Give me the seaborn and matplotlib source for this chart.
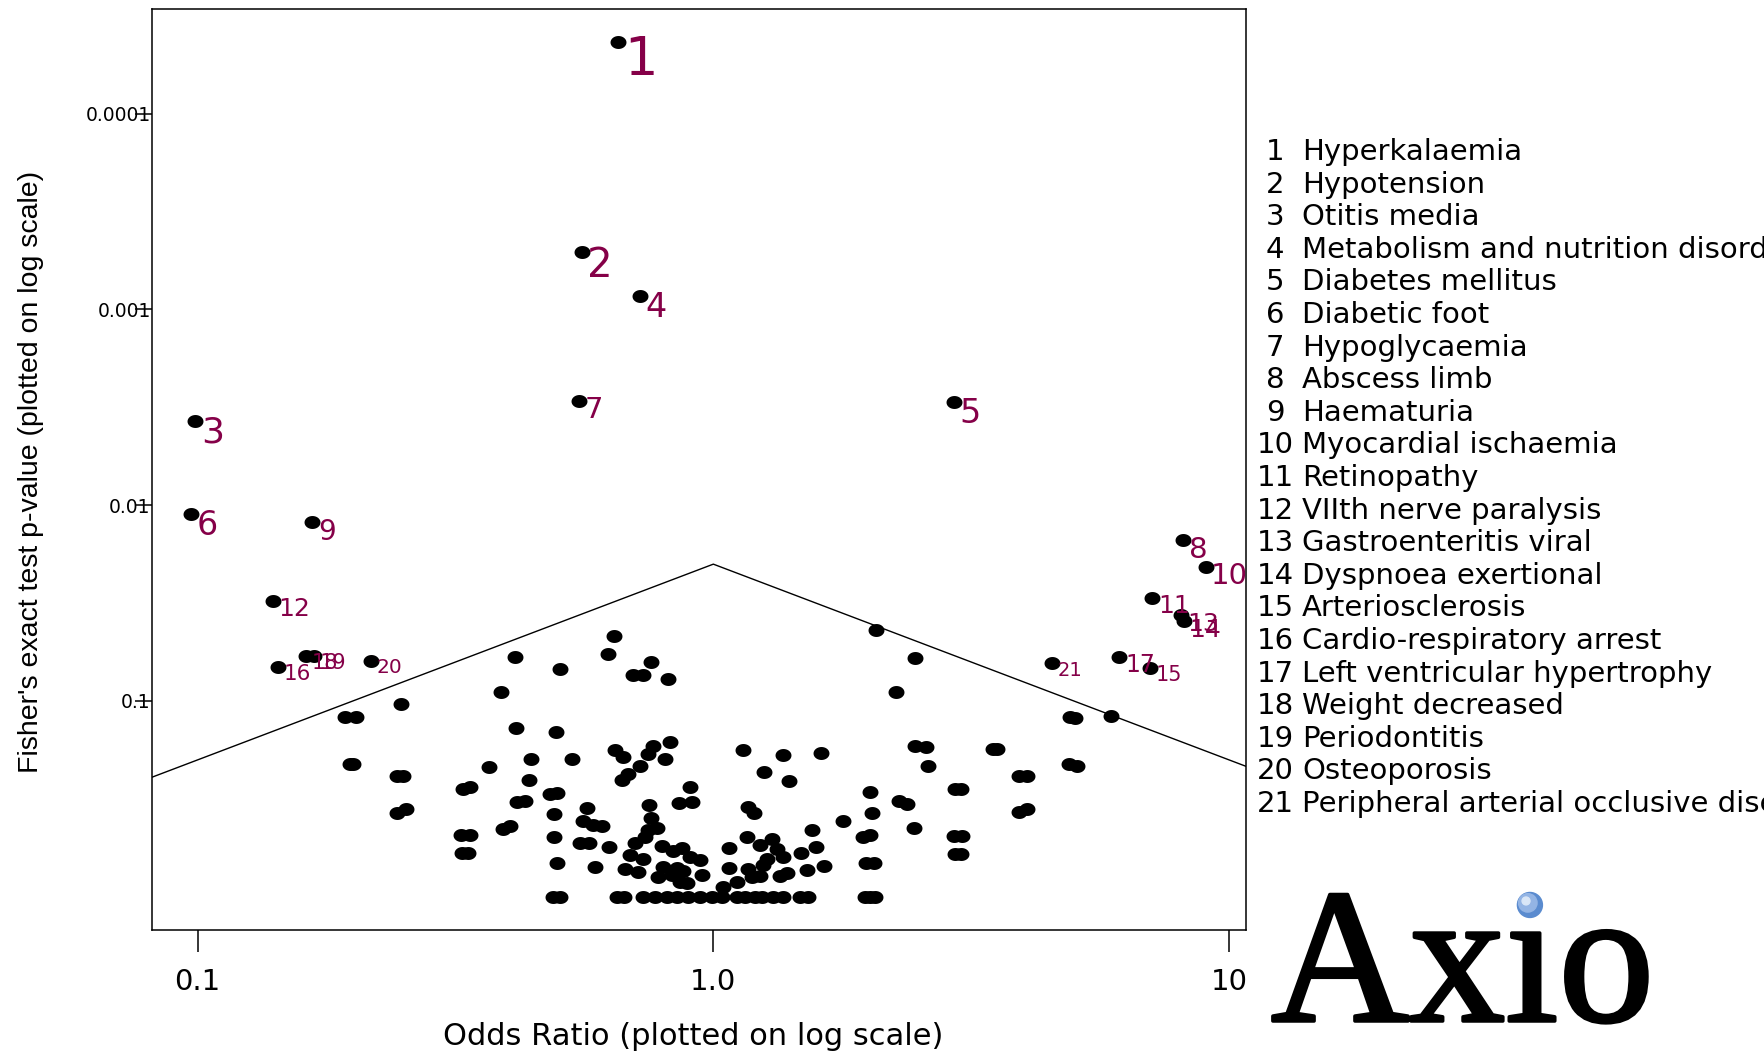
"""
Volcano-style plot of adverse events: odds ratio vs Fisher's exact test p-value
"""

import numpy as np
import pandas as pd
import matplotlib
matplotlib.use("Agg")
import matplotlib.pyplot as plt
import matplotlib.patheffects as pe
from matplotlib.markers import MarkerStyle
from matplotlib.patches import Ellipse
from matplotlib.ticker import NullLocator
import seaborn as sns

# Flagged adverse events (numbered 1-21 on the plot)
ae_names = ["Hyperkalaemia", "Hypotension", "Otitis media",
            "Metabolism and nutrition disorders", "Diabetes mellitus",
            "Diabetic foot", "Hypoglycaemia", "Abscess limb", "Haematuria",
            "Myocardial ischaemia", "Retinopathy", "VIIth nerve paralysis",
            "Gastroenteritis viral", "Dyspnoea exertional", "Arteriosclerosis",
            "Cardio-respiratory arrest", "Left ventricular hypertrophy",
            "Weight decreased", "Periodontitis", "Osteoporosis",
            "Peripheral arterial occlusive disease"]
flag_or = [0.654, 0.556, 0.099, 0.721, 2.93, 0.097, 0.550, 8.15, 0.167, 9.01,
           7.10, 0.140, 8.08, 8.18, 7.03, 0.143, 6.13, 0.162, 0.168, 0.217, 4.53]
flag_p = [4.3e-5, 5.1e-4, 3.7e-3, 8.5e-4, 2.96e-3, 0.0111, 2.92e-3, 0.0151,
          0.0122, 0.0206, 0.0297, 0.0308, 0.0365, 0.0392, 0.0682, 0.0672,
          0.0595, 0.0589, 0.0589, 0.0624, 0.0643]

# All the other adverse events (unlabelled)
other_or = [
    # OR < 0.45
    0.413, 0.387, 0.414, 0.193, 0.203, 0.248, 0.1975, 0.200, 0.244, 0.250,
    0.244, 0.254, 0.327, 0.338, 0.368, 0.444, 0.439, 0.416, 0.4315, 0.324,
    0.338, 0.326, 0.335, 0.391, 0.404,
    # 0.45 - 1.1
    0.642, 0.626, 0.5045, 0.757, 0.700, 0.732, 0.816, 0.496, 0.532, 0.645,
    0.669, 0.765, 0.748, 0.8245, 0.806, 0.721, 0.684, 0.6645, 0.497, 0.483,
    0.9015, 0.908, 0.859, 0.570, 0.751, 0.491, 0.560, 0.585, 0.608, 0.756,
    0.777, 0.748, 0.490, 0.5515, 0.575, 0.628, 0.705, 0.737, 0.794, 0.837,
    0.8685, 1.073, 0.4985, 0.590, 0.690, 0.732, 0.6745, 0.7155, 0.9015, 0.943,
    0.800, 0.849, 0.875, 0.950, 0.782, 0.831, 0.862, 0.888, 1.073, 1.046,
    0.489, 0.5045, 0.651, 0.671, 0.732, 0.771, 0.812, 0.849, 0.895, 0.943,
    0.993, 1.0385,
    # 1.1 - 2.7
    2.065, 2.461, 2.258, 2.461, 2.585, 2.608, 1.144, 1.367, 1.616, 1.256,
    1.404, 2.013, 2.295, 2.372, 2.029, 1.787, 2.450, 1.169, 1.200, 1.951,
    2.013, 1.552, 1.164, 1.232, 1.298, 1.327, 1.367, 1.477, 1.582, 1.269,
    1.169, 1.251, 1.187, 1.232, 1.347, 1.392, 1.522, 1.642, 1.978, 2.049,
    1.110, 1.110, 1.152, 1.205, 1.241, 1.307, 1.367, 1.473, 1.529, 1.969,
    2.013, 2.059,
    # OR > 2.7
    4.92, 5.03, 5.90, 3.49, 3.55, 3.92, 4.06, 4.89, 5.07, 2.94,
    3.02, 3.92, 4.06, 2.93, 3.04, 2.94, 3.02,
]
other_p = [
    0.0599, 0.0904, 0.137, 0.1205, 0.1205, 0.104, 0.211, 0.211, 0.242, 0.242,
    0.372, 0.358, 0.282, 0.2755, 0.2185, 0.199, 0.254, 0.329, 0.325, 0.4845,
    0.4845, 0.599, 0.599, 0.449, 0.436,
    0.0465, 0.0574, 0.069, 0.0636, 0.0738, 0.0738, 0.0776, 0.144, 0.198, 0.178,
    0.193, 0.170, 0.1875, 0.162, 0.199, 0.2145, 0.236, 0.254, 0.2945, 0.299,
    0.2765, 0.3275, 0.334, 0.354, 0.340, 0.3785, 0.411, 0.431, 0.434, 0.398,
    0.443, 0.457, 0.498, 0.5305, 0.534, 0.560, 0.5305, 0.494, 0.551, 0.583,
    0.563, 0.563, 0.6715, 0.704, 0.613, 0.645, 0.7255, 0.746, 0.630, 0.650,
    0.704, 0.717, 0.7375, 0.776, 0.797, 0.776, 0.839, 0.855, 0.717, 0.890,
    1.0, 1.0, 1.0, 1.0, 1.0, 1.0, 1.0, 1.0, 1.0, 1.0,
    1.0, 1.0,
    0.0435, 0.0606, 0.0904, 0.170, 0.171, 0.215, 0.177, 0.189, 0.185, 0.230,
    0.257, 0.293, 0.324, 0.336, 0.373, 0.411, 0.443, 0.347, 0.373, 0.496,
    0.4845, 0.457, 0.498, 0.545, 0.508, 0.573, 0.625, 0.597, 0.556, 0.645,
    0.7255, 0.690, 0.791, 0.785, 0.785, 0.755, 0.731, 0.695, 0.6715, 0.6715,
    0.839, 1.0, 1.0, 1.0, 1.0, 1.0, 1.0, 1.0, 1.0, 1.0,
    1.0, 1.0,
    0.121, 0.122, 0.1195, 0.175, 0.175, 0.242, 0.242, 0.210, 0.215, 0.280,
    0.280, 0.370, 0.357, 0.490, 0.490, 0.606, 0.606,
]

# Screening boundary (tent shape, peak at OR = 1)
line_or = [0.05, 1.0, 20.0]
line_p = [0.4, 0.02, 0.4]

x_ticks = [0.1, 1.0, 10.0]
x_ticklabels = ["0.1", "1.0", "10"]
y_ticks = [0.0001, 0.001, 0.01, 0.1]
y_ticklabels = ["0.0001", "0.001", "0.01", "0.1"]

# label font sizes for the numbered events
label_sizes = [38, 29, 26, 24, 24, 24, 21, 21, 20, 21, 18, 18, 18, 18, 15,
               15.5, 17, 15, 15, 14.5, 14]
label_color = "#850048"

sns.set_style("white")
plt.rcParams["font.family"] = ["DejaVu Sans"]
plt.rcParams["text.color"] = "black"
plt.rcParams["axes.labelcolor"] = "black"
plt.rcParams["xtick.color"] = "black"
plt.rcParams["ytick.color"] = "black"

pts = pd.DataFrame({"odds_ratio": other_or + flag_or,
                    "p_value": other_p + flag_p})

fig = plt.figure(figsize=(17.64, 10.54), dpi=100)
ax = fig.add_axes([0.0862, 0.1176, 0.6202, 0.8738])
ax.set_xscale("log")
ax.set_yscale("log")

# slightly wide dots, like the original
t = np.linspace(0, 2 * np.pi, 48)
ellipse = MarkerStyle(np.column_stack([1.23 * np.cos(t), np.sin(t)]))

sns.lineplot(x=line_or, y=line_p, sort=False, color="black", lw=1.0,
             ax=ax, zorder=1)
sns.scatterplot(data=pts, x="odds_ratio", y="p_value", marker=ellipse, s=132,
                color="black", edgecolor="black", linewidth=0, ax=ax, zorder=3)

for i, (o, p) in enumerate(zip(flag_or, flag_p)):
    fs = label_sizes[i]
    ax.annotate(str(i + 1), (o, p), xytext=(4, 0.15 * fs),
                textcoords="offset points", fontsize=fs, color=label_color,
                ha="left", va="top", zorder=4)

ax.set_xlim(0.0816, 10.79)
ax.set_ylim(1.48, 2.92e-5)

ax.set_xticks(x_ticks)
ax.set_xticklabels(x_ticklabels)
ax.set_yticks(y_ticks)
ax.set_yticklabels(y_ticklabels)
ax.xaxis.set_minor_locator(NullLocator())
ax.yaxis.set_minor_locator(NullLocator())
ax.tick_params(axis="x", bottom=True, direction="out", length=16, width=1.1,
               pad=11, labelsize=21, color="black", labelcolor="black")
ax.tick_params(axis="y", left=True, direction="out", length=12, width=1.1,
               pad=-11, labelsize=13.5, color="black", labelcolor="black")
for sp in ax.spines.values():
    sp.set_linewidth(1.1)
    sp.set_color("black")

ax.set_xlabel("Odds Ratio (plotted on log scale)", fontsize=22, color="black")
ax.xaxis.set_label_coords(0.4945, -0.0999)
ax.set_ylabel("Fisher's exact test p-value (plotted on log scale)",
              fontsize=20.5, family="Liberation Sans", color="black")
ax.yaxis.label.set_va("center")
ax.yaxis.set_label_coords(-0.1106, 0.497)

# key of the numbered events, to the right of the plot
for i, name in enumerate(ae_names):
    y = 1 - (160 + 32.6 * i) / 1054
    fig.text(0.7228, y, str(i + 1), ha="center", va="baseline", fontsize=21,
             color="black")
    fig.text(0.7381, y, name, ha="left", va="baseline", fontsize=21,
             color="black")

# Axio logo
fig.text(0.7205, 0.0313, "Ax\u0131o", family="Liberation Serif", fontsize=138,
         ha="left", va="baseline", color="black",
         path_effects=[pe.withStroke(linewidth=2.5, foreground="black")])
cx, cy = 0.8673, 0.1414
fig.patches.append(Ellipse((cx, cy), 0.01417, 0.0237, color="#5A8BCF",
                           transform=fig.transFigure, figure=fig))
fig.patches.append(Ellipse((cx - 0.0012, cy + 0.002), 0.0105, 0.0175,
                           color="#93B4E4", transform=fig.transFigure, figure=fig))
fig.patches.append(Ellipse((cx - 0.0022, cy + 0.0038), 0.0045, 0.0075,
                           color="#D9E6F7", transform=fig.transFigure, figure=fig))

fig.savefig("out.png", dpi=100)
